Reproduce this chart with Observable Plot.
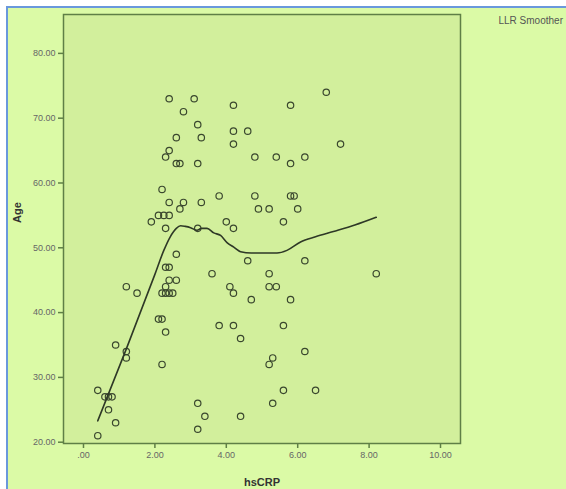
<!DOCTYPE html>
<html>
<head>
<meta charset="utf-8">
<script src="https://cdn.jsdelivr.net/npm/d3@7"></script>
<script src="https://cdn.jsdelivr.net/npm/@observablehq/plot@0.6"></script>
<style>
  html, body { margin: 0; padding: 0; background: #ffffff; overflow: hidden; }
  #bg { position: absolute; left: 6px; top: 6px; width: 700px; height: 700px;
        background: #dbfaa6; border-top: 2px solid #6a98dc; border-left: 2px solid #6a98dc; }
  #chart { position: absolute; left: 0; top: 0; }
</style>
</head>
<body>
<div id="bg"></div>
<div id="chart"></div>
<script>
// Scatter points: hsCRP (x) and Age (y)
const hsCRP = [2.4,3.1,2.8,3.2,2.6,3.3,4.2,4.2,4.2,2.4,2.3,2.6,2.7,3.2,2.2,3.8,2.4,2.8,3.3,2.7,2.1,2.25,2.4,1.9,2.3,3.2,4.0,4.2,2.6,
  6.8,5.8,4.6,7.2,4.8,5.4,5.8,6.2,4.8,5.8,5.9,4.9,5.2,6.0,5.6,4.6,6.2,
  2.3,2.4,3.6,2.4,2.6,1.2,1.5,2.2,2.3,2.4,2.5,2.3,4.1,4.2,2.1,2.2,3.8,4.2,2.3,4.4,0.9,1.2,1.2,2.2,0.4,0.6,0.7,0.8,0.7,0.9,0.4,3.2,3.4,3.2,4.4,
  5.2,8.2,5.2,5.4,4.7,5.8,5.6,6.2,5.3,5.2,5.6,6.5,5.3];
const age = [73,73,71,69,67,67,72,68,66,65,64,63,63,63,59,58,57,57,57,56,55,55,55,54,53,53,54,53,49,
  74,72,68,66,64,64,63,64,58,58,58,56,56,56,54,48,48,
  47,47,46,45,45,44,43,43,43,43,43,44,44,43,39,39,38,38,37,36,35,34,33,32,28,27,27,27,25,23,21,26,24,22,24,
  46,46,44,44,42,42,38,34,33,32,28,28,26];

// LLR smoother curve
const smoothX = [0.4,1.2,2.0,2.25,2.43,2.6,2.72,2.85,3.0,3.18,3.3,3.46,3.65,3.84,4.02,4.21,4.4,4.7,5.0,5.42,5.7,6.08,6.5,7.0,7.6,8.2];
const smoothY = [23.3,34.4,45.9,49.6,51.7,53.0,53.4,53.3,53.1,52.7,53.0,53.0,52.3,51.9,50.8,50.1,49.4,49.2,49.2,49.2,49.6,50.9,51.7,52.5,53.5,54.7];

const xTicks = [0,2,4,6,8,10];
const yTicks = [20,30,40,50,60,70,80];

const points = hsCRP.map((x, i) => ({x, y: age[i]}));
const smooth = smoothX.map((x, i) => ({x, y: smoothY[i]}));

const frameColor = "#5f7f46";
const fmtX = d => d === 0 ? ".00" : d.toFixed(2);
const fmtY = d => d.toFixed(2);

const chart = Plot.plot({
  width: 566,
  height: 489,
  marginLeft: 63,
  marginRight: 106,
  marginTop: 14,
  marginBottom: 46,
  style: {background: "transparent", fontFamily: "Liberation Sans, Arial, sans-serif"},
  x: {domain: [-0.56, 10.56]},
  y: {domain: [19.8, 86]},
  marks: [
    Plot.frame({fill: "#d2ef9c", stroke: frameColor, strokeWidth: 1.5}),
    Plot.axisX({ticks: xTicks, tickFormat: fmtX, tickSize: 5, tickPadding: 3, fontSize: 9,
      stroke: frameColor, strokeWidth: 1.5, fill: "#666", label: null}),
    Plot.axisY({ticks: yTicks, tickFormat: fmtY, tickSize: 5, tickPadding: 3, fontSize: 9,
      stroke: frameColor, strokeWidth: 1.5, fill: "#666", label: null}),
    Plot.dot(points, {x: "x", y: "y", r: 3.2, stroke: "#3a472e", strokeWidth: 1.2, fill: "none"}),
    Plot.line(smooth, {x: "x", y: "y", stroke: "#2e3826", strokeWidth: 1.6, curve: "monotone-x"}),
    Plot.text(["hsCRP"], {frameAnchor: "bottom", dy: 39, lineAnchor: "middle", fontSize: 11, fontWeight: "bold", fill: "#333"}),
    Plot.text(["Age"], {frameAnchor: "left", dx: -46, dy: -6, rotate: -90, lineAnchor: "middle", fontSize: 11, fontWeight: "bold", fill: "#333"}),
    Plot.text(["LLR Smoother"], {frameAnchor: "top-right", dx: 38, dy: 6, textAnchor: "start", lineAnchor: "middle", fontSize: 10, fill: "#555"})
  ]
});
document.getElementById("chart").appendChild(chart);
</script>
</body>
</html>
